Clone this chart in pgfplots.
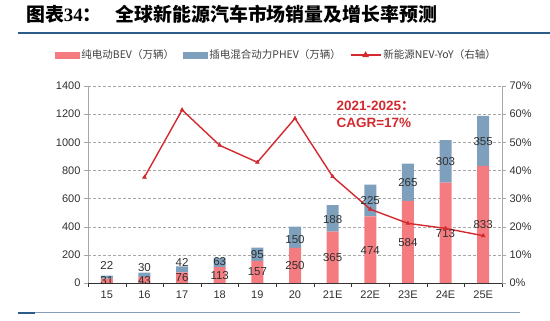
\documentclass[border=0pt]{standalone}
\usepackage{pgfplots}
\pgfplotsset{compat=1.18}
\usepackage{fontspec}
\setmainfont{Liberation Sans}
\newfontfamily\cjk{Noto Sans CJK SC}
\newfontfamily\tnr{Liberation Serif}
\definecolor{bev}{HTML}{F47C80}
\definecolor{phev}{HTML}{7FA0BC}
\definecolor{yoy}{HTML}{D42A2F}
\definecolor{titleblue}{HTML}{2E5C8A}
\definecolor{txt}{HTML}{303030}
\tikzset{lbl/.style={font=\fontsize{11.5}{12}\selectfont, text=txt, inner sep=0pt}}
\pgfplotstableread{
idx bev phev
0 31 22
1 43 30
2 76 42
3 113 63
4 157 95
5 250 150
6 365 188
7 474 225
8 584 265
9 713 303
10 833 355
}\sales
\pgfplotstableread{
idx yoy
1 37.6
2 61.5
3 48.9
4 42.9
5 58.5
6 37.8
7 26.2
8 21.2
9 19.4
10 16.8
}\growth
\begin{document}
\begin{tikzpicture}
\useasboundingbox (0pt,0pt) rectangle (550pt,321pt);
\node[anchor=west, inner sep=0pt, font=\cjk\bfseries\fontsize{18.9}{19}\selectfont] at (26pt,307pt) {图表{\tnr\bfseries 34}：\hspace{14pt}全球新能源汽车市场销量及增长率预测};
\draw[titleblue, line width=1.2pt] (18pt,288pt) -- (550pt,288pt);
\draw[titleblue!60, line width=1pt] (18pt,8pt) -- (520pt,8pt);
\draw[titleblue, line width=2pt] (18pt,8pt) -- (35pt,8pt);

\begin{axis}[at={(88pt,38pt)}, anchor=south west, scale only axis,
  width=414pt, height=197pt,
  xmin=-0.5, xmax=10.5, ymin=0, ymax=1400,
  axis x line=bottom, axis y line=left, axis line style={-, draw=gray!70},
  x axis line style={draw=black!80},
  xtick={0,...,10}, xticklabels={15,16,17,18,19,20,21E,22E,23E,24E,25E},
  major x tick style={draw=none},
  minor xtick={-0.5,0.5,...,10.5}, minor tick length=4pt,
  minor x tick style={draw=black!80},
  ytick={0,200,...,1400},
  y tick style={draw=gray!70}, major tick length=4pt,
  tick align=outside,
  ymajorgrids, grid style={densely dashed, gray!70, line width=0.4pt},
  tick label style={font=\fontsize{11}{12}\selectfont, text=txt},
  /pgf/number format/assume math mode=true,
  /pgf/number format/1000 sep={},
  ybar stacked, bar width=12pt,
  clip=false,
]
\addplot[fill=bev, draw=none] table[x=idx, y=bev] {\sales};
\addplot[fill=phev, draw=none] table[x=idx, y=phev] {\sales};
\node[anchor=west, align=left, inner sep=0pt, text=yoy, font=\bfseries\fontsize{13.5}{17}\selectfont] at (axis cs:6.1,1200) {2021-2025{\cjk ：}\\CAGR=17\%};
\end{axis}

\begin{axis}[at={(88pt,38pt)}, anchor=south west, scale only axis,
  width=414pt, height=197pt,
  xmin=-0.5, xmax=10.5, ymin=0, ymax=70,
  axis x line=none, axis y line=right, axis line style={-, draw=gray!70},
  ytick={0,10,...,70}, yticklabel={\pgfmathprintnumber{\tick}\%},
  y tick style={draw=gray!70}, major tick length=4pt, tick align=outside,
  tick label style={font=\fontsize{11}{12}\selectfont, text=txt},
  /pgf/number format/assume math mode=true,
  legend style={at={(0.455,1.157)}, anchor=center, legend columns=3, draw=none, fill=none,
    font=\cjk\fontsize{10.5}{12}\selectfont, text=black!75,
    /tikz/every even column/.append style={column sep=7pt}},
  legend cell align=left,
  clip=false,
]
\addlegendimage{legend image code/.code={\fill[bev] (0pt,-3pt) rectangle (24pt,3pt);}}
\addlegendentry{纯电动BEV（万辆）}
\addlegendimage{legend image code/.code={\fill[phev] (0pt,-3pt) rectangle (24pt,3pt);}}
\addlegendentry{插电混合动力PHEV（万辆）}
\addplot[yoy, line width=1.4pt, mark=triangle*, mark size=2.2pt, mark options={fill=yoy, line width=0.5pt},
  legend image code/.code={\draw[yoy, line width=1.4pt] (0pt,0pt) -- (30pt,0pt); \fill[yoy] (15pt,2.5pt) -- (12.8pt,-1.3pt) -- (17.2pt,-1.3pt) -- cycle;}] table[x=idx, y=yoy] {\growth};
\addlegendentry{新能源NEV-YoY（右轴）}
% bar value labels (placed in this axis: 1400 on the left axis = 70 here)
\node[lbl] at (axis cs:0,0.75) {31};
\node[lbl] at (axis cs:1,1.05) {43};
\node[lbl] at (axis cs:2,1.9) {76};
\node[lbl] at (axis cs:3,2.8) {113};
\node[lbl] at (axis cs:4,3.9) {157};
\node[lbl] at (axis cs:5,6.05) {250};
\node[lbl] at (axis cs:6,9) {365};
\node[lbl] at (axis cs:7,11.6) {474};
\node[lbl] at (axis cs:8,14.3) {584};
\node[lbl] at (axis cs:9,17.65) {713};
\node[lbl] at (axis cs:10,20.6) {833};
\node[lbl] at (axis cs:0,6.15) {22};
\node[lbl] at (axis cs:1,5.6) {30};
\node[lbl] at (axis cs:2,7.35) {42};
\node[lbl] at (axis cs:3,7.55) {63};
\node[lbl] at (axis cs:4,10.2) {95};
\node[lbl] at (axis cs:5,15.5) {150};
\node[lbl] at (axis cs:6,22.4) {188};
\node[lbl] at (axis cs:7,29.15) {225};
\node[lbl] at (axis cs:8,35.65) {265};
\node[lbl] at (axis cs:9,43.1) {303};
\node[lbl] at (axis cs:10,50.2) {355};
\end{axis}
\end{tikzpicture}
\end{document}
